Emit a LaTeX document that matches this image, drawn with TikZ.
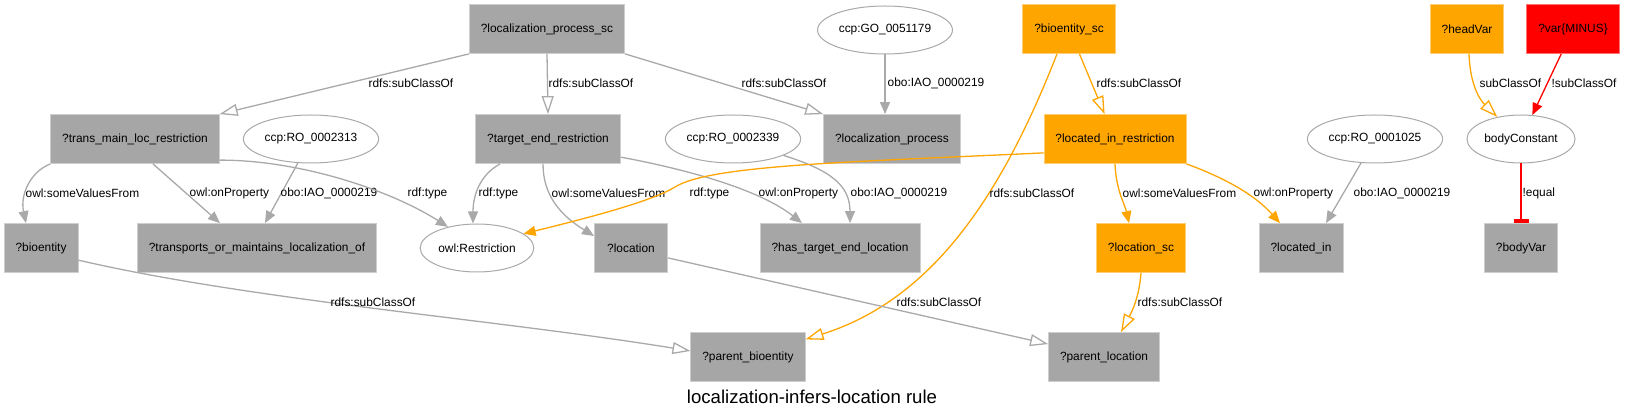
\documentclass[tikz,border=0pt]{standalone}
\usepackage{fontspec}
\setmainfont{Liberation Sans}
\usetikzlibrary{arrows.meta,shapes.geometric}

\definecolor{boxgray}{HTML}{A6A6A6}
\definecolor{edgegray}{HTML}{A9A9A9}
\definecolor{gvorange}{HTML}{FFA500}
\definecolor{gvred}{HTML}{FF0000}

\begin{document}
\begin{tikzpicture}[x=1pt,y=-1pt,line join=round,
  every node/.style={font=\fontsize{11.9}{14}\selectfont},
  box/.style={rectangle,fill=#1,draw=#1!55!white,line width=0.8pt,
    minimum width=73pt,minimum height=49pt,inner xsep=11.5pt},
  box/.default=boxgray,
  lit/.style={ellipse,draw=edgegray,line width=1pt,fill=white,
    minimum height=48pt,inner xsep=1.5pt},
  rel/.style={draw=#1,line width=1.3pt,-{Triangle[length=12pt,width=10pt]}},
  rel/.default=edgegray,
  sub/.style={draw=#1,line width=1.3pt,-{Triangle[open,length=18pt,width=12pt]}},
  sub/.default=edgegray,
  lbl/.style={anchor=west,inner sep=0pt}]

  \useasboundingbox (0,0) rectangle (1625,419);

  % Top row
  \node[box] (lpsc) at (547,29) {?localization\_process\_sc};
  \node[lit] (go) at (885,30) {ccp:GO\_0051179};
  \node[box=gvorange] (bsc) at (1069,29) {?bioentity\_sc};
  \node[box=gvorange] (head) at (1467,29) {?headVar};
  \node[box=gvred] (minus) at (1573,29) {?var\{MINUS\}};

  % Restrictions
  \node[box] (tmlr) at (135,139) {?trans\_main\_loc\_restriction};
  \node[lit] (ro2313) at (311,139) {ccp:RO\_0002313};
  \node[box] (ter) at (548,139) {?target\_end\_restriction};
  \node[lit] (ro2339) at (733,139) {ccp:RO\_0002339};
  \node[box] (lp) at (892,139) {?localization\_process};
  \node[box=gvorange] (lir) at (1115,139) {?located\_in\_restriction};
  \node[lit] (ro1025) at (1375,139) {ccp:RO\_0001025};
  \node[lit] (bc) at (1521,139) {bodyConstant};

  % Fillers and properties
  \node[box] (bio) at (41,248) {?bioentity};
  \node[box] (tml) at (257,248) {?transports\_or\_maintains\_localization\_of};
  \node[lit] (restr) at (477,248) {owl:Restriction};
  \node[box] (loc) at (631,248) {?location};
  \node[box] (htel) at (840,248) {?has\_target\_end\_location};
  \node[box=gvorange] (locsc) at (1141,248) {?location\_sc};
  \node[box] (locin) at (1301,248) {?located\_in};
  \node[box] (bvar) at (1521,248) {?bodyVar};

  % Parents
  \node[box] (pbio) at (748,357) {?parent\_bioentity};
  \node[box] (ploc) at (1104,357) {?parent\_location};

  \node[font=\fontsize{18.6}{22}\selectfont] (title) at (812,397) {localization-infers-location rule};

  % Edges from the top row
  \draw[sub] (lpsc.south west) -- (tmlr.north east) node[lbl] at (368,83) {rdfs:subClassOf};
  \draw[sub] (lpsc.south) -- (ter.north) node[lbl] at (548,83) {rdfs:subClassOf};
  \draw[sub] (lpsc.south east) -- (lp.north west) node[lbl] at (741,83) {rdfs:subClassOf};
  \draw[rel] (go.south) -- (go.south |- lp.north) node[lbl] at (887,83) {obo:IAO\_0000219};
  \draw[sub=gvorange] (bsc) -- (lir) node[lbl] at (1096,83) {rdfs:subClassOf};
  \draw[sub=gvorange] ([xshift=-12pt]bsc.south) .. controls (1000,200) and (930,300) .. (pbio.17)
    node[lbl] at (989,193) {rdfs:subClassOf};
  \draw[sub=gvorange] ([xshift=2pt]head.south) .. controls (1470,85) and (1480,100) .. (bc.137)
    node[lbl] at (1479,83) {subClassOf};
  \draw[rel=gvred] (minus) -- (bc) node[lbl] at (1551,83) {!subClassOf};
  \draw[draw=gvred,line width=1.3pt,-{Rectangle[length=4pt,width=15pt]}] (bc) -- (bvar)
    node[lbl] at (1522,193) {!equal};

  % Edges from the restrictions
  \draw[rel] (tmlr.south west) .. controls (30,172) and (20,195) .. ([xshift=-15pt]bio.north)
    node[lbl] at (25,193) {owl:someValuesFrom};
  \draw[rel] ([xshift=18pt]tmlr.south) -- ([xshift=-37pt]tml.north) node[lbl] at (189,193) {owl:onProperty};
  \draw[rel] (ro2313) -- ([xshift=8pt]tml.north) node[lbl] at (280,193) {obo:IAO\_0000219};
  \draw[rel] (tmlr.-14) .. controls (300,160) and (390,190) .. (restr.144) node[lbl] at (407,193) {rdf:type};
  \draw[rel] ([xshift=-48pt]ter.south) .. controls (480,175) and (473,195) .. ([xshift=-4pt]restr.north)
    node[lbl] at (478,193) {rdf:type};
  \draw[rel] ([xshift=-5pt]ter.south) .. controls (543,195) and (560,215) .. (loc.162)
    node[lbl] at (551,193) {owl:someValuesFrom};
  \draw[rel] (ter.-14) .. controls (690,170) and (760,190) .. ([xshift=-38pt]htel.north)
    node[lbl] at (758,193) {owl:onProperty};
  \draw[rel] (ro2339.-18) .. controls (830,170) and (850,185) .. ([xshift=10pt]htel.north)
    node[lbl] at (850,193) {obo:IAO\_0000219};
  \draw[rel=gvorange] (lir.191) .. controls (850,162) and (710,165) .. (675,187)
    .. controls (654,200) and (600,215) .. (restr.17) node[lbl] at (689,193) {rdf:type};
  \draw[rel=gvorange] (lir.south) .. controls (1116,190) and (1125,205) .. ([xshift=-12pt]locsc.north)
    node[lbl] at (1122,193) {owl:someValuesFrom};
  \draw[rel=gvorange] (lir.south east) .. controls (1225,178) and (1255,195) .. ([xshift=-21pt]locin.north)
    node[lbl] at (1253,193) {owl:onProperty};
  \draw[rel] (ro1025) -- ([xshift=25pt]locin.north) node[lbl] at (1353,193) {obo:IAO\_0000219};

  % Edges to the parents
  \draw[sub] (bio.-18) .. controls (250,300) and (500,320) .. (pbio.174) node[lbl] at (330,302) {rdfs:subClassOf};
  \draw[sub] (loc.-15) -- (ploc.167) node[lbl] at (896,302) {rdfs:subClassOf};
  \draw[sub=gvorange] (locsc.south) .. controls (1139,300) and (1130,315) .. ([xshift=17pt]ploc.north)
    node[lbl] at (1137,302) {rdfs:subClassOf};
\end{tikzpicture}
\end{document}
